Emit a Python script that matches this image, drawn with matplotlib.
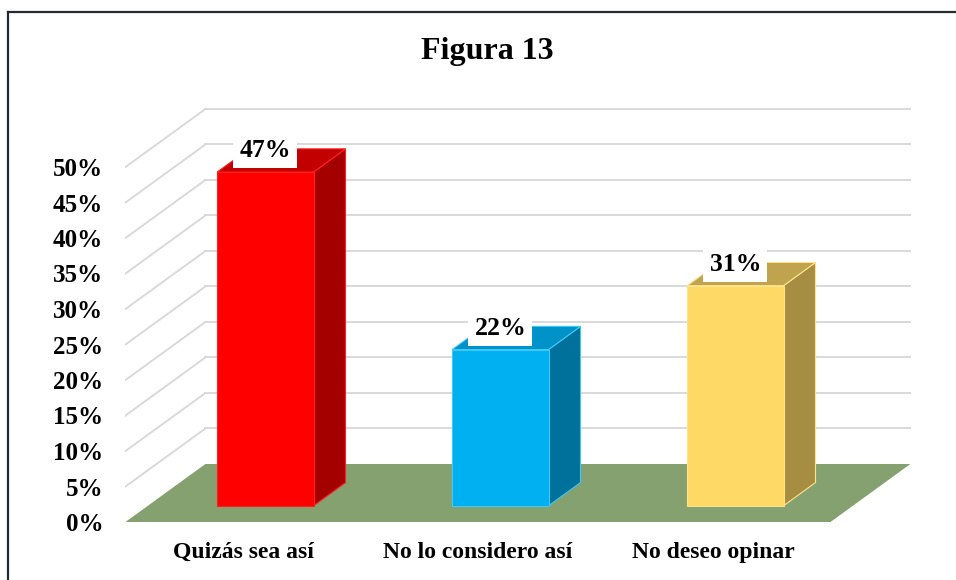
import matplotlib
matplotlib.use("Agg")
import matplotlib.pyplot as plt
from matplotlib.patches import Polygon
from matplotlib.lines import Line2D

# ---- data ----
categories = ["Quizás sea así", "No lo considero así", "No deseo opinar"]
values = [47, 22, 31]
value_labels = ["47%", "22%", "31%"]
tick_values = [0, 5, 10, 15, 20, 25, 30, 35, 40, 45, 50]
tick_labels = ["0%", "5%", "10%", "15%", "20%", "25%", "30%", "35%", "40%", "45%", "50%"]
title = "Figura 13"

front_colors = ["#FF0000", "#00B0F0", "#FFD966"]
side_colors = ["#A50000", "#00719B", "#A68D42"]
top_colors = ["#C30000", "#0092C8", "#C0A34E"]
edge_colors = ["#FF2020", "#40C8F8", "#FFE38A"]
floor_color = "#84A16F"
grid_color = "#D9D9D9"

plt.rcParams['font.family'] = ['Liberation Serif', 'DejaVu Serif']

# oblique projection parameters (depth axis)
DX = 0.34   # category units per unit depth
DY = 8.17   # percent units per unit depth
Z0, Z1 = 0.28, 0.68
BW = 0.41


def P(x, y, z):
    return (x + z * DX, y + z * DY)


fig = plt.figure(figsize=(9.56, 5.8), dpi=100)
W, H = 956, 580
x_left, x_right = -0.5, 2.9
y_bot, y_top = -1.0, 60.0
px_per_cat = 235.0
px_per_pct = 7.1
x0_px = 243.0
y0_px = 522.0
ax_l = x0_px + px_per_cat * x_left
ax_r = x0_px + px_per_cat * x_right
ax_b = y0_px - px_per_pct * y_bot
ax_t = y0_px - px_per_pct * y_top
ax = fig.add_axes([ax_l / W, (H - ax_b) / H, (ax_r - ax_l) / W, (ax_b - ax_t) / H])
ax.set_xlim(x_left, x_right)
ax.set_ylim(y_bot, y_top)
for s in ax.spines.values():
    s.set_visible(False)
ax.patch.set_alpha(0)

n = len(categories)
fx0, fx1 = -0.5, n - 0.5

# gridlines: back wall + left wall diagonals
for t in tick_values:
    if t == 0:
        continue
    a = P(fx0, t, 1)
    b = P(fx1, t, 1)
    ax.plot([a[0], b[0]], [a[1], b[1]], color=grid_color, lw=1.4, zorder=1)
    c = P(fx0, t, 0)
    ax.plot([c[0], a[0]], [c[1], a[1]], color=grid_color, lw=1.4, zorder=1)

# floor
floor = Polygon([P(fx0, 0, 0), P(fx1, 0, 0), P(fx1, 0, 1), P(fx0, 0, 1)],
                closed=True, facecolor=floor_color, edgecolor="none", zorder=2)
ax.add_patch(floor)

# bars
for i, v in enumerate(values):
    xl, xr = i - BW / 2, i + BW / 2
    front = [P(xl, 0, Z0), P(xr, 0, Z0), P(xr, v, Z0), P(xl, v, Z0)]
    side = [P(xr, 0, Z0), P(xr, 0, Z1), P(xr, v, Z1), P(xr, v, Z0)]
    top = [P(xl, v, Z0), P(xr, v, Z0), P(xr, v, Z1), P(xl, v, Z1)]
    for poly, col in ((side, side_colors[i]), (top, top_colors[i]), (front, front_colors[i])):
        ax.add_patch(Polygon(poly, closed=True, facecolor=col,
                             edgecolor=edge_colors[i], lw=0.8, zorder=3))
    lx, ly = P(i, v, Z0)
    ax.text(lx, ly + 3.0, value_labels[i], ha="center", va="center",
            fontsize=18.5, fontweight="bold", color="black", zorder=5,
            bbox=dict(boxstyle="square,pad=0.24", facecolor="white", edgecolor="none"))

ax.set_yticks(tick_values)
ax.set_yticklabels(tick_labels, fontsize=18, fontweight="bold")
ax.set_xticks(range(n))
ax.set_xticklabels(categories, fontsize=17, fontweight="bold")
ax.tick_params(axis="y", length=0, pad=16)
ax.tick_params(axis="x", length=0, pad=9)

fig.text(487 / W, 1 - 52 / H, title, ha="center", va="center",
         fontsize=23, fontweight="bold")

# outer frame (left and top edges visible)
fc = "#252B35"
fig.add_artist(Line2D([8 / W, 8 / W], [0, 1 - 11.5 / H], color=fc, lw=1.6,
                      transform=fig.transFigure))
fig.add_artist(Line2D([8 / W, 1], [1 - 11.5 / H, 1 - 11.5 / H], color=fc, lw=1.6,
                      transform=fig.transFigure))

fig.savefig("out.png", dpi=100, facecolor="white")
